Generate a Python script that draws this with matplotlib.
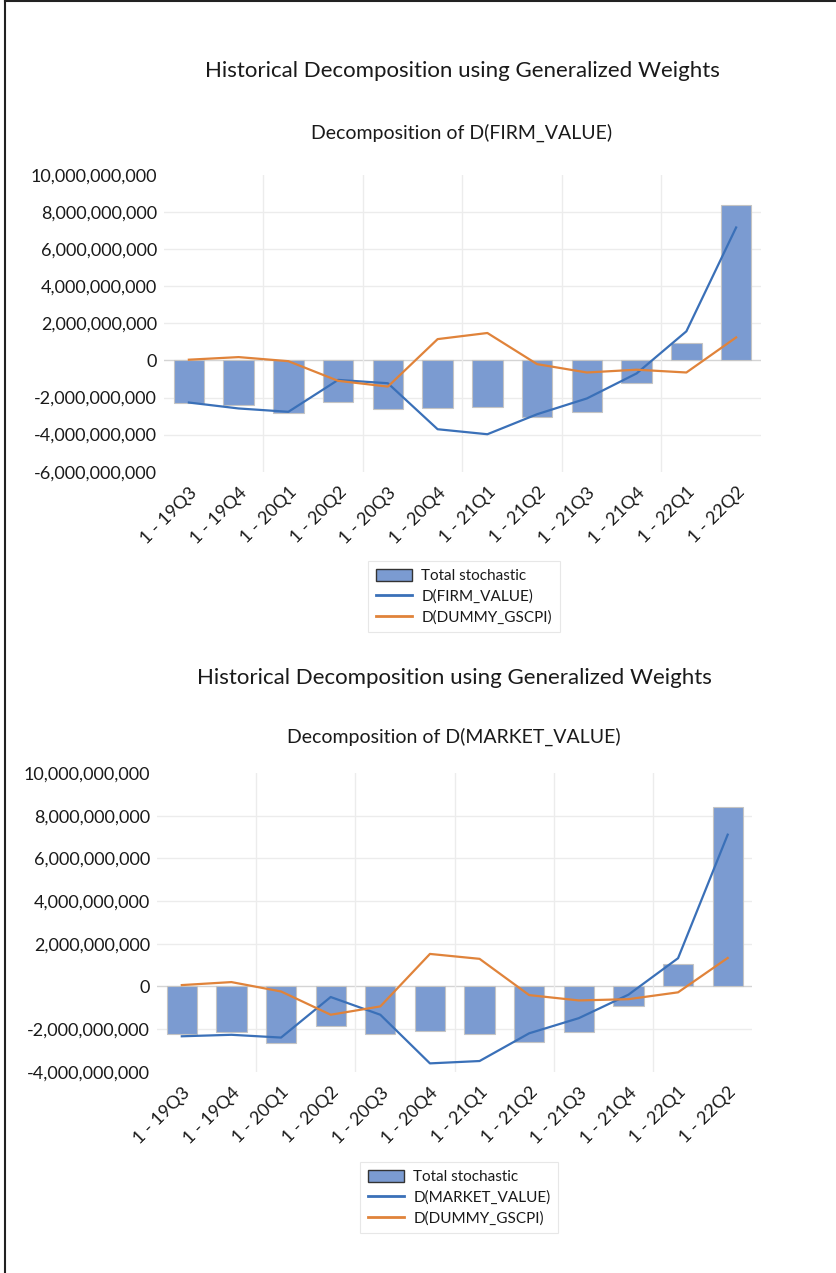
import matplotlib
matplotlib.use("Agg")
import matplotlib.pyplot as plt
from matplotlib.patches import Patch
from matplotlib.lines import Line2D
from matplotlib.ticker import FuncFormatter
import numpy as np

plt.rcParams['font.family'] = ['Lato', 'DejaVu Sans']

# quarters on the category axis
quarters = ['1 - 19Q3', '1 - 19Q4', '1 - 20Q1', '1 - 20Q2', '1 - 20Q3', '1 - 20Q4',
            '1 - 21Q1', '1 - 21Q2', '1 - 21Q3', '1 - 21Q4', '1 - 22Q1', '1 - 22Q2']

# top panel: D(FIRM_VALUE), values in units of 1e9
firm_total = [-2.27, -2.41, -2.85, -2.23, -2.63, -2.58, -2.50, -3.05, -2.77, -1.21, 0.94, 8.36]
firm_own = [-2.27, -2.59, -2.77, -1.05, -1.23, -3.71, -3.98, -2.90, -2.05, -0.70, 1.57, 7.17]
firm_gscpi = [0.04, 0.18, -0.04, -1.10, -1.41, 1.15, 1.48, -0.20, -0.65, -0.50, -0.65, 1.24]

# bottom panel: D(MARKET_VALUE), values in units of 1e9
mkt_total = [-2.24, -2.13, -2.64, -1.85, -2.24, -2.09, -2.24, -2.60, -2.16, -0.93, 1.04, 8.42]
mkt_own = [-2.34, -2.27, -2.40, -0.50, -1.33, -3.61, -3.50, -2.20, -1.49, -0.39, 1.32, 7.11]
mkt_gscpi = [0.06, 0.20, -0.24, -1.33, -0.94, 1.52, 1.29, -0.41, -0.66, -0.60, -0.28, 1.33]

BAR_COL = '#7b9bd1'
BLUE = '#3a70b8'
ORANGE = '#e0833a'
TXT = '#1a1a1a'
W, H = 837, 1273


def fmt(v, pos):
    return '{:,.0f}'.format(v)


def draw_panel(ax, total, own, gscpi, ymin, ymax):
    x = np.arange(len(quarters))
    scale = 1e9
    ax.bar(x, np.array(total) * scale, width=0.61, color=BAR_COL,
           edgecolor='#c4c4c4', linewidth=0.8, zorder=2)
    ax.plot(x, np.array(own) * scale, color=BLUE, lw=1.6, zorder=3)
    ax.plot(x, np.array(gscpi) * scale, color=ORANGE, lw=1.6, zorder=4)

    ax.set_xlim(-0.5, len(quarters) - 0.5)
    ax.set_ylim(ymin, ymax)
    yt = np.arange(ymin, ymax + 1, 2e9)
    ax.set_yticks(yt)
    ax.yaxis.set_major_formatter(FuncFormatter(fmt))
    for v in yt[1:-1]:
        if v == 0:
            ax.axhline(0, color='#d4d4d4', lw=1.0, zorder=1)
        else:
            ax.axhline(v, color='#ececec', lw=1.0, zorder=1)
    for gx in [1.5, 3.5, 5.5, 7.5, 9.5]:
        ax.axvline(gx, color='#ececec', lw=1.0, zorder=1)

    ax.set_xticks(x)
    ax.set_xticklabels(quarters, rotation=45, ha='right', rotation_mode='anchor')
    ax.tick_params(axis='both', length=0, labelsize=13, colors=TXT)
    ax.tick_params(axis='y', pad=5)
    ax.tick_params(axis='x', pad=9)
    for s in ax.spines.values():
        s.set_visible(False)


fig = plt.figure(figsize=(W / 100, H / 100), dpi=100)

# top chart
ax1 = fig.add_axes([164 / W, 1 - 471.7 / H, 597 / W, 296.7 / H])
draw_panel(ax1, firm_total, firm_own, firm_gscpi, -6e9, 10e9)
fig.text(462 / W, 1 - 71 / H, 'Historical Decomposition using Generalized Weights',
         ha='center', va='center', fontsize=16, color=TXT)
fig.text(462 / W, 1 - 133 / H, 'Decomposition of D(FIRM_VALUE)',
         ha='center', va='center', fontsize=14, color=TXT)

# bottom chart
ax2 = fig.add_axes([157 / W, 1 - 1071.7 / H, 595.5 / W, 298.7 / H])
draw_panel(ax2, mkt_total, mkt_own, mkt_gscpi, -4e9, 10e9)
fig.text(454 / W, 1 - 678 / H, 'Historical Decomposition using Generalized Weights',
         ha='center', va='center', fontsize=16, color=TXT)
fig.text(454 / W, 1 - 737 / H, 'Decomposition of D(MARKET_VALUE)',
         ha='center', va='center', fontsize=14, color=TXT)


def add_legend(own_label, left, top):
    handles = [Patch(facecolor=BAR_COL, edgecolor='#333333', linewidth=1.0),
               Line2D([], [], color=BLUE, lw=2),
               Line2D([], [], color=ORANGE, lw=2)]
    labels = ['Total stochastic', own_label, 'D(DUMMY_GSCPI)']
    leg = fig.legend(handles, labels, loc='upper left',
                     bbox_to_anchor=(left / W, 1 - top / H),
                     fontsize=11, frameon=True, fancybox=False,
                     handlelength=2.4, handleheight=0.9, handletextpad=0.6,
                     labelspacing=0.4, borderpad=0.5, borderaxespad=0)
    leg.get_frame().set_edgecolor('#e2e2e2')
    leg.get_frame().set_linewidth(0.8)
    for t in leg.get_texts():
        t.set_color(TXT)


add_legend('D(FIRM_VALUE)', 368, 561)
add_legend('D(MARKET_VALUE)', 360, 1162)

# border of the screenshot
fig.add_artist(Line2D([5 / W, 5 / W], [0, 1], transform=fig.transFigure, color='#222222', lw=1.5))
fig.add_artist(Line2D([5 / W, 1], [1 - 1 / H, 1 - 1 / H], transform=fig.transFigure, color='#222222', lw=1.5))

fig.savefig('out.png', dpi=100)
